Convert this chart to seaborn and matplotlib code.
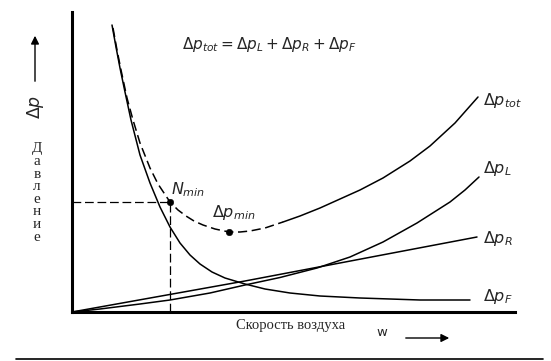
import matplotlib
matplotlib.use("Agg")
import matplotlib.pyplot as plt
import seaborn as sns
import pandas as pd
import numpy as np

# schematic: pressure drop vs air speed (arbitrary units)
w_F = [4.0, 4.4, 4.8, 5.3, 5.9, 6.8, 7.8, 8.8, 9.8, 10.8, 11.8, 12.8, 14.0, 15.3, 17.3,
       19.3, 21.8, 24.8, 28.8, 34.8, 39.8]
p_F = [28.7, 26.5, 24.4, 22.0, 19.2, 15.7, 12.9, 10.5, 8.5, 6.9, 5.7, 4.8, 4.0, 3.4, 2.8,
       2.3, 1.9, 1.6, 1.4, 1.2, 1.2]

w_R = [0.0, 17.3, 40.5]
p_R = [0.0, 3.1, 7.5]

w_L = [0.0, 2.8, 6.8, 9.8, 13.8, 17.3, 20.8, 24.5, 27.8, 31.1, 34.5, 37.8, 39.3, 40.7]
p_L = [0.0, 0.3, 0.8, 1.2, 1.9, 2.7, 3.45, 4.4, 5.5, 7.0, 8.9, 11.0, 12.2, 13.5]

w_tot_dash = [4.1, 4.5, 4.9, 5.5, 6.1, 6.8, 7.8, 8.6, 9.8, 10.6, 11.4, 12.2, 13.1, 14.3,
              15.7, 16.8, 17.8, 19.3, 21.1]
p_tot_dash = [28.4, 26.2, 24.2, 21.4, 19.2, 16.9, 14.4, 12.8, 11.0, 10.2, 9.6, 9.1, 8.7, 8.3,
              8.0, 8.0, 8.1, 8.4, 9.0]
w_tot_solid = [21.1, 22.8, 24.8, 26.8, 28.8, 31.1, 33.8, 35.8, 38.3, 40.6]
p_tot_solid = [9.0, 9.6, 10.4, 11.3, 12.2, 13.4, 15.1, 16.6, 18.9, 21.5]

n_min = (9.8, 11.0)
dp_min = (15.7, 8.0)

end_labels = [r"$\Delta p_{tot}$", r"$\Delta p_L$", r"$\Delta p_R$", r"$\Delta p_F$"]
end_label_p = [21.2, 14.4, 7.4, 1.5]

sns.set_theme(style="white")
plt.rcParams["font.family"] = ["DejaVu Sans"]
plt.rcParams["mathtext.fontset"] = "dejavusans"

fig = plt.figure(figsize=(5.51, 3.61), dpi=100)
ax = fig.add_axes([72 / 551, 49 / 361, 443 / 551, 300 / 361])

lw = 1.1
sns.lineplot(x=w_F, y=p_F, ax=ax, color="black", lw=lw, sort=False, estimator=None)
sns.lineplot(x=w_R, y=p_R, ax=ax, color="black", lw=lw, sort=False, estimator=None)
sns.lineplot(x=w_L, y=p_L, ax=ax, color="black", lw=lw, sort=False, estimator=None)
sns.lineplot(x=w_tot_dash, y=p_tot_dash, ax=ax, color="black", lw=lw, sort=False,
             estimator=None).lines[-1].set_dashes([6, 3])
sns.lineplot(x=w_tot_solid, y=p_tot_solid, ax=ax, color="black", lw=lw, sort=False, estimator=None)

# helper dashed lines to N_min
ax.plot([0, n_min[0]], [n_min[1], n_min[1]], color="black", lw=0.9, dashes=[7, 3])
ax.plot([n_min[0], n_min[0]], [0, n_min[1]], color="black", lw=0.9, dashes=[7, 3])

pts = pd.DataFrame({"w": [n_min[0], dp_min[0]], "p": [n_min[1], dp_min[1]]})
sns.scatterplot(data=pts, x="w", y="p", ax=ax, color="black", s=22, zorder=5, edgecolor="black")

ax.text(n_min[0] + 0.1, n_min[1] + 0.3, r"$N_{min}$", fontsize=11.5, va="bottom", ha="left")
ax.text(dp_min[0] - 1.7, dp_min[1] + 1.0, r"$\Delta p_{min}$", fontsize=11.5, va="bottom", ha="left")

for lab, pv in zip(end_labels, end_label_p):
    ax.text(41.1, pv, lab, fontsize=11.5, va="center", ha="left")

ax.set_xlim(0, 44.3)
ax.set_ylim(0, 30)
ax.set_xticks([])
ax.set_yticks([])
ax.set_xlabel("")
ax.set_ylabel("")
for s in ["top", "right"]:
    ax.spines[s].set_visible(False)
for s in ["left", "bottom"]:
    ax.spines[s].set_linewidth(2.2)
    ax.spines[s].set_color("black")
ax.patch.set_alpha(0)

H = 361
fig.text(182 / 551, (H - 45) / H, r"$\Delta p_{tot} = \Delta p_L + \Delta p_R + \Delta p_F$",
         fontsize=11, ha="left", va="center")

# y axis label with arrow and vertical word
fig.text(36 / 551, (H - 107) / H, r"$\Delta p$", fontsize=12.5, rotation=90, ha="center", va="center")
ax.annotate("", xy=(35, H - 33), xytext=(35, H - 84), xycoords="figure pixels",
            textcoords="figure pixels",
            arrowprops=dict(arrowstyle="-|>", color="black", lw=1.0, mutation_scale=12))
fig.text(37 / 551, (H - 193) / H, "\n".join("Давление"), fontsize=11,
         family=["Liberation Serif", "DejaVu Serif"], ha="center", va="center",
         linespacing=0.96, multialignment="center")

# x axis label with arrow
fig.text(291 / 551, (H - 325) / H, "Скорость воздуха", fontsize=10.5,
         family=["Liberation Serif", "DejaVu Serif"], ha="center", va="center")
fig.text(382 / 551, (H - 333) / H, "w", fontsize=9.5, ha="center", va="center")
ax.annotate("", xy=(452, H - 338), xytext=(403, H - 338), xycoords="figure pixels",
            textcoords="figure pixels",
            arrowprops=dict(arrowstyle="-|>", color="black", lw=1.0, mutation_scale=12))

# rule at the bottom
fig.add_artist(plt.Line2D([16 / 551, 543 / 551], [(H - 359) / H, (H - 359) / H],
                          color="black", lw=1.2, transform=fig.transFigure))

fig.savefig("out.png", dpi=100)
